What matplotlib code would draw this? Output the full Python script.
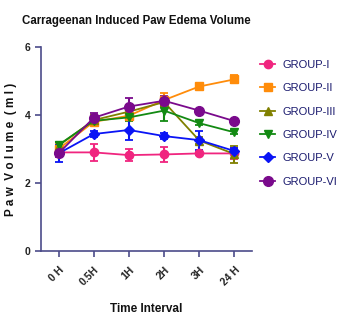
import matplotlib
matplotlib.use("Agg")
import matplotlib.pyplot as plt
from matplotlib import font_manager
from matplotlib.lines import Line2D

names = {f.name for f in font_manager.fontManager.ttflist}
fam = ['Liberation Sans Narrow', 'Liberation Sans', 'DejaVu Sans'] if 'Liberation Sans Narrow' in names else ['Liberation Sans', 'DejaVu Sans']
plt.rcParams['font.family'] = fam

time_labels = ["0 H", "0.5H", "1H", "2H", "3H", "24 H"]
groups = ["GROUP-I", "GROUP-II", "GROUP-III", "GROUP-IV", "GROUP-V", "GROUP-VI"]

g1 = [2.90, 2.90, 2.82, 2.84, 2.87, 2.87]
g1_err = [0.12, 0.25, 0.18, 0.22, 0.05, 0.15]
g2 = [3.00, 3.80, 3.98, 4.44, 4.84, 5.05]
g2_err = [0.15, 0.10, 0.12, 0.20, 0.08, 0.12]
g3 = [3.10, 3.85, 4.10, 4.38, 3.25, 2.85]
g3_err = [0.12, 0.15, 0.20, 0.12, 0.10, 0.25]
g4 = [3.12, 3.83, 3.93, 4.13, 3.76, 3.49]
g4_err = [0.10, 0.12, 0.12, 0.30, 0.06, 0.06]
g5 = [2.87, 3.44, 3.56, 3.38, 3.26, 2.94]
g5_err = [0.25, 0.08, 0.30, 0.10, 0.28, 0.10]
g6 = [2.87, 3.92, 4.25, 4.42, 4.13, 3.82]
g6_err = [0.10, 0.15, 0.25, 0.15, 0.06, 0.06]

values = [g1, g2, g3, g4, g5, g6]
errors = [g1_err, g2_err, g3_err, g4_err, g5_err, g6_err]
colors = ["#f0257f", "#ff8c0a", "#808000", "#138a13", "#0a14f5", "#7a0a8c"]
markers = ["o", "s", "^", "v", "D", "o"]
msizes = [6, 6, 6, 6, 5, 7]

spine_c = "#4b4b8a"
fig = plt.figure(figsize=(3.46, 3.16), dpi=100)
ax = fig.add_axes([0.1185, 0.206, 0.61, 0.645])
x = list(range(len(time_labels)))
handles = []
for i in range(len(groups)):
    ax.errorbar(x, values[i], yerr=errors[i], color=colors[i], marker=markers[i],
                markersize=msizes[i], lw=1.3, capsize=3, capthick=1.3, elinewidth=1.5)
    handles.append(Line2D([], [], color=colors[i], marker=markers[i],
                          markersize=msizes[i], lw=1.3, label=groups[i]))

ax.set_xlim(-0.5, 5.5)
ax.set_ylim(0, 6)
ax.set_yticks([0, 2, 4, 6])
ax.set_xticks(x)
ax.set_xticklabels(time_labels, rotation=45, ha='right', rotation_mode='anchor',
                   fontsize=7.5, fontweight='bold', color='#222222')
for lab in ax.get_yticklabels():
    lab.set_fontsize(7.5)
    lab.set_fontweight('bold')
    lab.set_color('#333333')
for s in ['top', 'right']:
    ax.spines[s].set_visible(False)
for s in ['left', 'bottom']:
    ax.spines[s].set_color(spine_c)
    ax.spines[s].set_linewidth(1.2)
ax.tick_params(axis='both', colors=spine_c, length=4, width=1.2)
ax.tick_params(axis='x', pad=6)
ax.tick_params(axis='both', labelcolor='#222222')

ax.set_ylabel("P a w  V o l u m e  ( m l )", fontsize=8.5, fontweight='bold', color='#111111', labelpad=6)
ax.set_xlabel("Time Interval", fontsize=8.5, fontweight='bold', color='#111111', labelpad=11)
fig.text(0.393, 0.935, "Carrageenan Induced Paw Edema Volume", ha='center', va='center',
         fontsize=8.3, fontweight='bold', color='#111111')

leg = ax.legend(handles=handles, loc='upper left', bbox_to_anchor=(1.0, 0.975), frameon=False,
                fontsize=8, labelspacing=1.2, handlelength=1.4, handletextpad=0.6,
                borderaxespad=0.3, labelcolor='#1a1a6e')

fig.savefig("out.png", dpi=100)
